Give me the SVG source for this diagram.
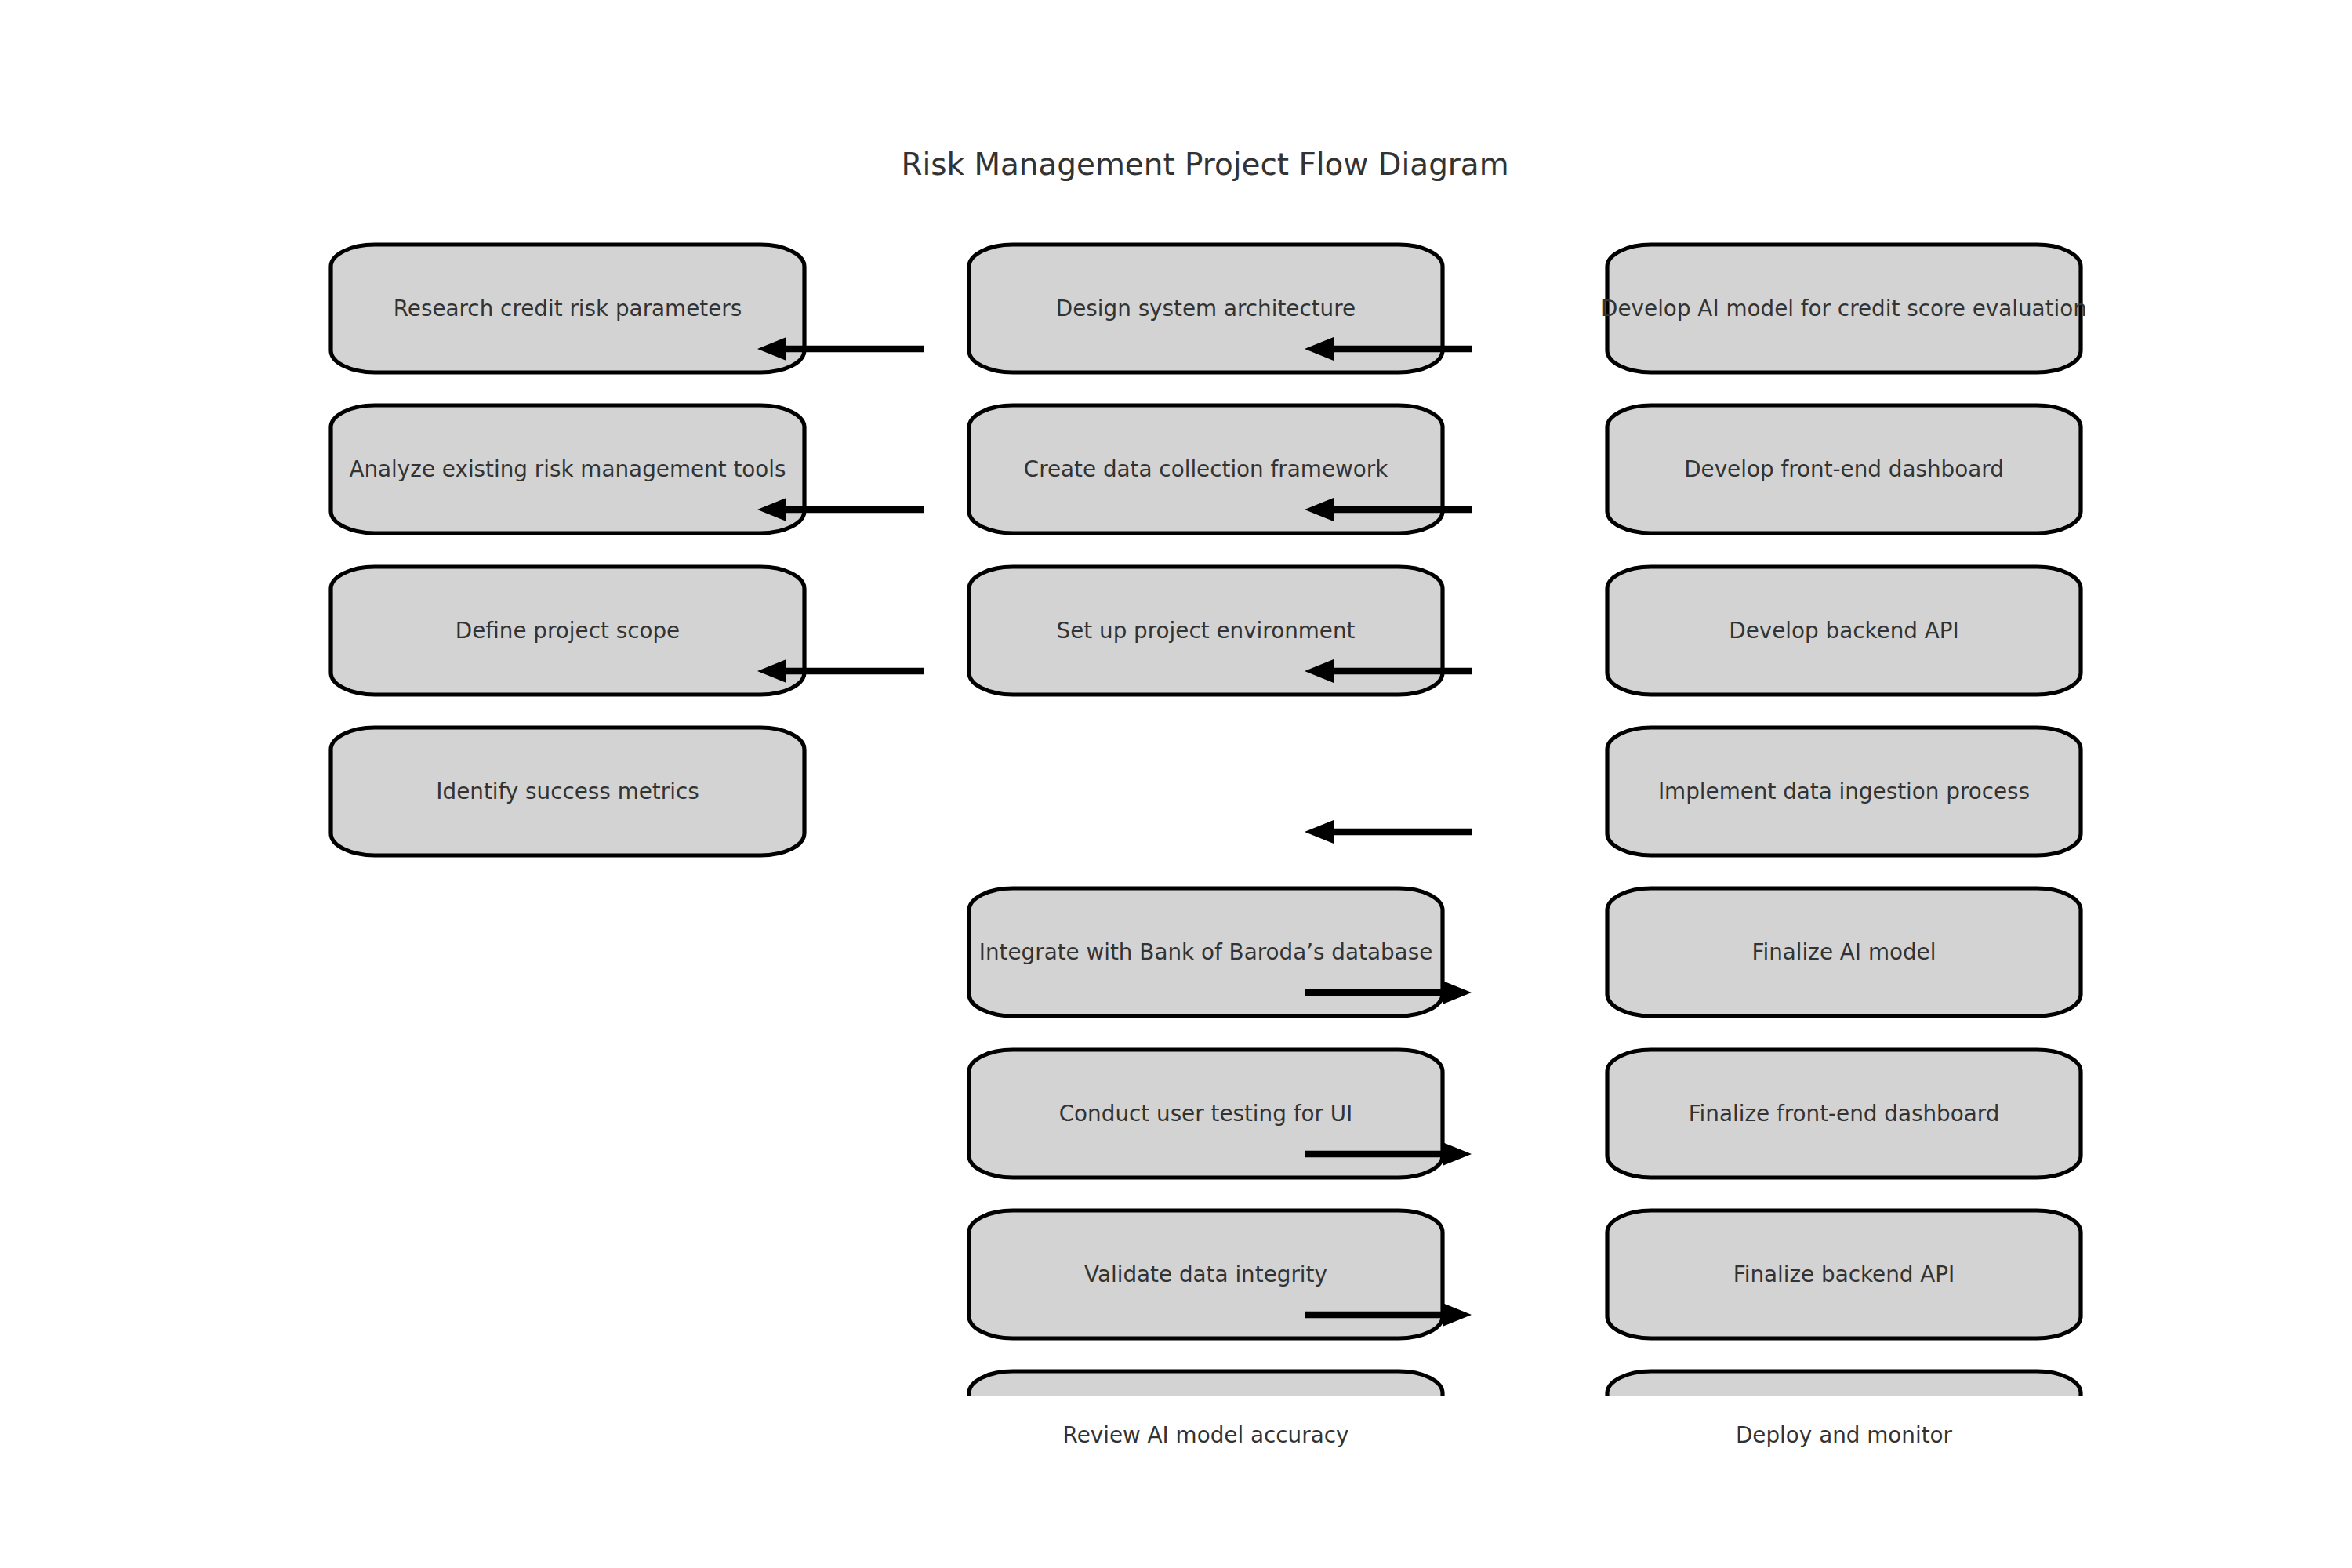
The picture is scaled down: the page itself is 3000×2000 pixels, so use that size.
<svg xmlns="http://www.w3.org/2000/svg" width="3000" height="2000" viewBox="0 0 3000 2000">
<style>
.box{fill:#d3d3d3;stroke:#000;stroke-width:5.2}
.lbl{font-family:"DejaVu Sans",sans-serif;font-size:27.8px;fill:#333;text-anchor:middle}
.title{font-family:"DejaVu Sans",sans-serif;font-size:38.9px;fill:#333;text-anchor:middle}
.arr{stroke:#000;stroke-width:8.3;fill:none;marker-end:url(#ah)}
</style>
<defs>
<marker id="ah" markerUnits="userSpaceOnUse" markerWidth="37" markerHeight="30" refX="0" refY="15" orient="auto" viewBox="0 0 37 30">
<path d="M0,0 L37,15 L0,30 Z" fill="#000"/>
</marker>
<clipPath id="clip"><rect x="0" y="0" width="3000" height="1780"/></clipPath>
</defs>
<rect width="3000" height="2000" fill="#fff"/>
<text class="title" x="1537" y="223">Risk Management Project Flow Diagram</text>
<g id="nodes">
<g id="n1"><rect class="box" x="422" y="312" width="604" height="163" rx="56" ry="28"/><text class="lbl" x="724" y="403">Research credit risk parameters</text></g>
<g id="n2"><rect class="box" x="422" y="517" width="604" height="163" rx="56" ry="28"/><text class="lbl" x="724" y="608">Analyze existing risk management tools</text></g>
<g id="n3"><rect class="box" x="422" y="723" width="604" height="163" rx="56" ry="28"/><text class="lbl" x="724" y="814">Define project scope</text></g>
<g id="n4"><rect class="box" x="422" y="928" width="604" height="163" rx="56" ry="28"/><text class="lbl" x="724" y="1019">Identify success metrics</text></g>
<g id="n5"><rect class="box" x="1236" y="312" width="604" height="163" rx="56" ry="28"/><text class="lbl" x="1538" y="403">Design system architecture</text></g>
<g id="n6"><rect class="box" x="1236" y="517" width="604" height="163" rx="56" ry="28"/><text class="lbl" x="1538" y="608">Create data collection framework</text></g>
<g id="n7"><rect class="box" x="1236" y="723" width="604" height="163" rx="56" ry="28"/><text class="lbl" x="1538" y="814">Set up project environment</text></g>
<g id="n8"><rect class="box" x="1236" y="1133" width="604" height="163" rx="56" ry="28"/><text class="lbl" x="1538" y="1224">Integrate with Bank of Baroda’s database</text></g>
<g id="n9"><rect class="box" x="1236" y="1339" width="604" height="163" rx="56" ry="28"/><text class="lbl" x="1538" y="1430">Conduct user testing for UI</text></g>
<g id="n10"><rect class="box" x="1236" y="1544" width="604" height="163" rx="56" ry="28"/><text class="lbl" x="1538" y="1635">Validate data integrity</text></g>
<g id="n11"><rect class="box" x="1236" y="1749" width="604" height="163" rx="56" ry="28" clip-path="url(#clip)"/><text class="lbl" x="1538" y="1840">Review AI model accuracy</text></g>
<g id="n12"><rect class="box" x="2050" y="312" width="604" height="163" rx="56" ry="28"/><text class="lbl" x="2352" y="403">Develop AI model for credit score evaluation</text></g>
<g id="n13"><rect class="box" x="2050" y="517" width="604" height="163" rx="56" ry="28"/><text class="lbl" x="2352" y="608">Develop front-end dashboard</text></g>
<g id="n14"><rect class="box" x="2050" y="723" width="604" height="163" rx="56" ry="28"/><text class="lbl" x="2352" y="814">Develop backend API</text></g>
<g id="n15"><rect class="box" x="2050" y="928" width="604" height="163" rx="56" ry="28"/><text class="lbl" x="2352" y="1019">Implement data ingestion process</text></g>
<g id="n16"><rect class="box" x="2050" y="1133" width="604" height="163" rx="56" ry="28"/><text class="lbl" x="2352" y="1224">Finalize AI model</text></g>
<g id="n17"><rect class="box" x="2050" y="1339" width="604" height="163" rx="56" ry="28"/><text class="lbl" x="2352" y="1430">Finalize front-end dashboard</text></g>
<g id="n18"><rect class="box" x="2050" y="1544" width="604" height="163" rx="56" ry="28"/><text class="lbl" x="2352" y="1635">Finalize backend API</text></g>
<g id="n19"><rect class="box" x="2050" y="1749" width="604" height="163" rx="56" ry="28" clip-path="url(#clip)"/><text class="lbl" x="2352" y="1840">Deploy and monitor</text></g>
</g>
<g id="connectors">
<path class="arr" d="M1178,445 H1003"/>
<path class="arr" d="M1178,650 H1003"/>
<path class="arr" d="M1178,856 H1003"/>
<path class="arr" d="M1877,445 H1701"/>
<path class="arr" d="M1877,650 H1701"/>
<path class="arr" d="M1877,856 H1701"/>
<path class="arr" d="M1877,1061 H1701"/>
<path class="arr" d="M1664,1266 H1840"/>
<path class="arr" d="M1664,1472 H1840"/>
<path class="arr" d="M1664,1677 H1840"/>
</g>
</svg>
